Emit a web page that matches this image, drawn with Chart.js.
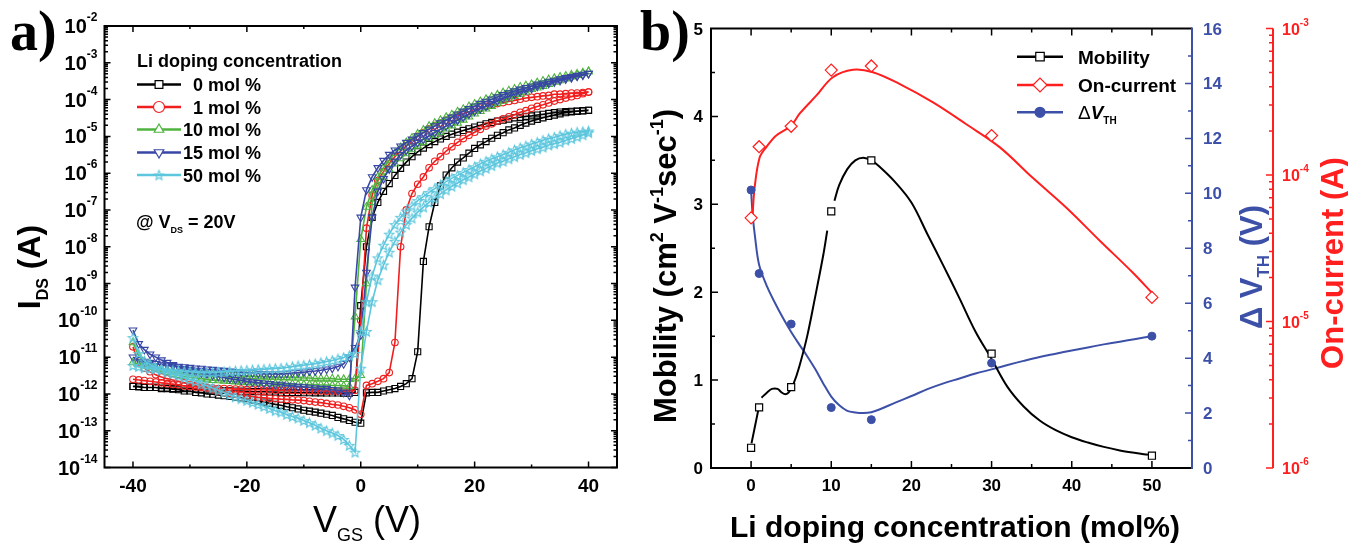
<!DOCTYPE html>
<html><head><meta charset="utf-8">
<script src="https://cdn.jsdelivr.net/npm/chart.js@4.4.1/dist/chart.umd.min.js"></script>
<style>
html,body{margin:0;padding:0;background:#fff;}
body{width:1348px;height:545px;position:relative;overflow:hidden;}
#ca{position:absolute;left:0;top:0;}
#cb{position:absolute;left:640px;top:0;}
</style></head><body>
<canvas id="ca" width="640" height="545"></canvas>
<canvas id="cb" width="708" height="545"></canvas>
<script>
// ---------------- Panel a) transfer curves (I_DS vs V_GS) ----------------
const vgs = [-40,-39,-38,-37,-36,-35,-34,-33,-32,-31,-30,-29,-28,-27,-26,-25,-24,-23,-22,-21,
 -20,-19,-18,-17,-16,-15,-14,-13,-12,-11,-10,-9,-8,-7,-6,-5,-4,-3,-2,-1,0,
 1,2,3,4,5,6,7,8,9,10,11,12,13,14,15,16,17,18,19,20,21,22,23,24,25,26,27,28,29,30,
 31,32,33,34,35,36,37,38,39,40];
const concLabels = ['0 mol %','1 mol %','10 mol %','15 mol %','50 mol %'];
const vgsTicks = [-40,-20,0,20,40];
const idsDecades = [-14,-13,-12,-11,-10,-9,-8,-7,-6,-5,-4,-3,-2];

// sweep -40 V -> +40 V (values listed for V = -40 ... 40)
const ids0Up = [1.6e-12,1.6e-12,1.5e-12,1.5e-12,1.5e-12,1.4e-12,1.4e-12,1.35e-12,1.3e-12,1.2e-12,
 1.2e-12,1.1e-12,1.07e-12,1.0e-12,9.8e-13,9.3e-13,8.9e-13,8.5e-13,8.1e-13,7.8e-13,
 7.4e-13,6.9e-13,6.5e-13,6.0e-13,5.6e-13,5.2e-13,4.9e-13,4.5e-13,4.2e-13,3.9e-13,
 3.6e-13,3.4e-13,3.2e-13,3.0e-13,2.8e-13,2.6e-13,2.3e-13,2.1e-13,1.9e-13,1.7e-13,
 1.6e-13,
 1.07e-12,1.1e-12,1.1e-12,1.2e-12,1.3e-12,1.4e-12,1.6e-12,1.9e-12,2.6e-12,1.4e-11,
 4.0e-9,3.5e-8,1.6e-7,4.5e-7,8.9e-7,1.4e-6,2.0e-6,2.6e-6,3.5e-6,4.7e-6,
 5.9e-6,7.2e-6,8.9e-6,1.07e-5,1.26e-5,1.5e-5,1.7e-5,2.0e-5,2.3e-5,2.6e-5,
 2.9e-5,3.2e-5,3.5e-5,3.8e-5,4.1e-5,4.4e-5,4.6e-5,4.8e-5,4.9e-5,5.1e-5];
// sweep +40 V -> -40 V (values listed for V = -40 ... 40)
const ids0Down = [1.6e-12,1.55e-12,1.5e-12,1.5e-12,1.5e-12,1.45e-12,1.45e-12,1.4e-12,1.4e-12,1.4e-12,
 1.38e-12,1.35e-12,1.33e-12,1.3e-12,1.28e-12,1.26e-12,1.24e-12,1.22e-12,1.2e-12,1.19e-12,
 1.18e-12,1.16e-12,1.15e-12,1.14e-12,1.13e-12,1.12e-12,1.11e-12,1.1e-12,1.1e-12,1.09e-12,
 1.08e-12,1.08e-12,1.07e-12,1.07e-12,1.06e-12,1.06e-12,1.06e-12,1.05e-12,1.05e-12,1.1e-12,
 2.5e-10,
 1.0e-8,6.3e-8,1.6e-7,3.2e-7,5.2e-7,8.7e-7,1.35e-6,2.0e-6,2.8e-6,3.8e-6,
 4.8e-6,6.0e-6,7.2e-6,8.5e-6,1.0e-5,1.15e-5,1.3e-5,1.45e-5,1.6e-5,1.8e-5,
 2.0e-5,2.2e-5,2.4e-5,2.6e-5,2.75e-5,2.95e-5,3.2e-5,3.3e-5,3.5e-5,3.6e-5,
 3.8e-5,4.0e-5,4.2e-5,4.4e-5,4.6e-5,4.7e-5,4.8e-5,4.9e-5,5.0e-5,5.1e-5];
const ids1Up = [1.9e-11,7.1e-12,5.0e-12,4.0e-12,3.3e-12,2.9e-12,2.6e-12,2.4e-12,2.2e-12,2.0e-12,
 1.8e-12,1.7e-12,1.6e-12,1.45e-12,1.3e-12,1.2e-12,1.1e-12,1.02e-12,9.8e-13,9.3e-13,
 8.9e-13,8.5e-13,8.1e-13,7.9e-13,7.6e-13,7.4e-13,7.2e-13,7.1e-13,6.9e-13,6.8e-13,
 6.6e-13,6.3e-13,6.0e-13,5.8e-13,5.5e-13,5.2e-13,5.0e-13,4.6e-13,4.2e-13,3.7e-13,
 2.8e-13,
 1.7e-12,1.9e-12,2.2e-12,2.6e-12,3.8e-12,2.5e-11,1.0e-8,1.0e-7,2.8e-7,5.0e-7,
 7.9e-7,1.4e-6,2.1e-6,2.8e-6,4.0e-6,5.2e-6,6.9e-6,8.7e-6,1.07e-5,1.3e-5,
 1.55e-5,1.9e-5,2.2e-5,2.6e-5,3.0e-5,3.4e-5,3.9e-5,4.5e-5,5.0e-5,5.8e-5,
 6.5e-5,7.2e-5,8.1e-5,9.1e-5,1.0e-4,1.1e-4,1.2e-4,1.3e-4,1.45e-4,1.6e-4];
const ids1Down = [2.5e-12,2.4e-12,2.3e-12,2.2e-12,2.1e-12,2.0e-12,1.9e-12,1.8e-12,1.75e-12,1.65e-12,
 1.6e-12,1.55e-12,1.5e-12,1.5e-12,1.45e-12,1.4e-12,1.4e-12,1.38e-12,1.35e-12,1.35e-12,
 1.3e-12,1.3e-12,1.3e-12,1.28e-12,1.28e-12,1.26e-12,1.26e-12,1.25e-12,1.24e-12,1.23e-12,
 1.22e-12,1.21e-12,1.2e-12,1.2e-12,1.19e-12,1.18e-12,1.18e-12,1.18e-12,1.2e-12,1.25e-12,
 1.0e-10,
 3.2e-8,2.5e-7,6.3e-7,1.1e-6,1.8e-6,2.8e-6,4.0e-6,5.5e-6,7.6e-6,1.0e-5,
 1.26e-5,1.6e-5,1.95e-5,2.3e-5,2.75e-5,3.2e-5,3.6e-5,4.2e-5,4.7e-5,5.2e-5,
 5.9e-5,6.5e-5,7.1e-5,7.8e-5,8.3e-5,8.9e-5,9.5e-5,1.02e-4,1.1e-4,1.15e-4,
 1.2e-4,1.26e-4,1.3e-4,1.4e-4,1.4e-4,1.45e-4,1.5e-4,1.5e-4,1.55e-4,1.6e-4];
const ids10Up = [2.5e-11,1.1e-11,7.6e-12,6.0e-12,5.0e-12,4.4e-12,3.9e-12,3.5e-12,3.2e-12,3.0e-12,
 2.8e-12,2.7e-12,2.6e-12,2.45e-12,2.35e-12,2.3e-12,2.25e-12,2.2e-12,2.15e-12,2.1e-12,
 2.05e-12,2.0e-12,2.0e-12,1.95e-12,1.95e-12,1.9e-12,1.9e-12,1.85e-12,1.85e-12,1.8e-12,
 1.8e-12,1.8e-12,1.8e-12,1.75e-12,1.75e-12,1.7e-12,1.7e-12,1.65e-12,1.6e-12,1.26e-10,
 1.6e-8,
 1.2e-7,3.5e-7,7.9e-7,1.4e-6,2.2e-6,3.5e-6,5.0e-6,6.8e-6,9.1e-6,1.17e-5,
 1.5e-5,1.9e-5,2.3e-5,2.75e-5,3.3e-5,3.9e-5,4.7e-5,5.5e-5,6.5e-5,7.6e-5,
 8.9e-5,1.02e-4,1.17e-4,1.35e-4,1.55e-4,1.75e-4,1.95e-4,2.2e-4,2.4e-4,2.6e-4,
 2.9e-4,3.2e-4,3.5e-4,3.8e-4,4.1e-4,4.4e-4,4.7e-4,5.0e-4,5.4e-4,5.8e-4];
const ids10Down = [7.1e-12,6.3e-12,5.8e-12,5.4e-12,5.0e-12,4.7e-12,4.5e-12,4.3e-12,4.1e-12,3.9e-12,
 3.7e-12,3.6e-12,3.5e-12,3.5e-12,3.4e-12,3.3e-12,3.2e-12,3.2e-12,3.2e-12,3.1e-12,
 3.0e-12,3.0e-12,2.95e-12,2.95e-12,2.9e-12,2.9e-12,2.8e-12,2.8e-12,2.75e-12,2.75e-12,
 2.7e-12,2.7e-12,2.6e-12,2.6e-12,2.6e-12,2.6e-12,2.5e-12,2.5e-12,2.5e-12,2.6e-12,
 3.2e-12,
 1.0e-9,1.6e-7,4.5e-7,7.9e-7,1.26e-6,1.8e-6,2.5e-6,3.4e-6,4.4e-6,5.5e-6,
 6.9e-6,8.7e-6,1.07e-5,1.3e-5,1.6e-5,1.95e-5,2.3e-5,2.8e-5,3.4e-5,4.1e-5,
 4.8e-5,5.6e-5,6.6e-5,7.8e-5,9.1e-5,1.07e-4,1.23e-4,1.4e-4,1.6e-4,1.9e-4,
 2.1e-4,2.3e-4,2.6e-4,3.0e-4,3.3e-4,3.7e-4,4.2e-4,4.6e-4,5.1e-4,5.8e-4];
const ids15Up = [5.4e-11,2.3e-11,1.6e-11,1.2e-11,1.0e-11,8.3e-12,7.1e-12,6.2e-12,5.4e-12,4.8e-12,
 4.4e-12,4.0e-12,3.7e-12,3.5e-12,3.2e-12,3.0e-12,2.8e-12,2.6e-12,2.45e-12,2.35e-12,
 2.2e-12,2.1e-12,2.0e-12,1.95e-12,1.9e-12,1.8e-12,1.8e-12,1.7e-12,1.65e-12,1.6e-12,
 1.55e-12,1.5e-12,1.45e-12,1.4e-12,1.4e-12,1.3e-12,1.26e-12,1.1e-12,9.1e-13,7.9e-10,
 6.3e-8,
 3.5e-7,7.9e-7,1.4e-6,2.2e-6,3.2e-6,4.2e-6,5.4e-6,6.8e-6,8.3e-6,1.02e-5,
 1.26e-5,1.55e-5,1.9e-5,2.3e-5,2.75e-5,3.3e-5,4.0e-5,4.8e-5,5.6e-5,6.6e-5,
 7.8e-5,8.9e-5,1.02e-4,1.17e-4,1.35e-4,1.5e-4,1.7e-4,1.9e-4,2.1e-4,2.3e-4,
 2.6e-4,2.8e-4,3.1e-4,3.3e-4,3.6e-4,3.9e-4,4.2e-4,4.5e-4,4.8e-4,5.1e-4];
const ids15Down = [1.0e-11,8.5e-12,7.6e-12,7.1e-12,6.6e-12,6.3e-12,6.0e-12,5.8e-12,5.6e-12,5.4e-12,
 5.2e-12,5.0e-12,4.9e-12,4.7e-12,4.6e-12,4.4e-12,4.3e-12,4.1e-12,4.0e-12,3.9e-12,
 3.8e-12,3.7e-12,3.6e-12,3.5e-12,3.5e-12,3.5e-12,3.5e-12,3.6e-12,3.7e-12,3.8e-12,
 3.9e-12,4.1e-12,4.2e-12,4.4e-12,4.7e-12,5.0e-12,5.6e-12,6.6e-12,1.0e-11,1.8e-11,
 4.0e-11,
 2.0e-9,6.3e-8,3.2e-7,7.1e-7,1.3e-6,2.1e-6,3.2e-6,4.2e-6,5.4e-6,6.8e-6,
 8.3e-6,1.02e-5,1.26e-5,1.55e-5,1.9e-5,2.3e-5,2.75e-5,3.3e-5,4.0e-5,4.8e-5,
 5.6e-5,6.6e-5,7.8e-5,9.1e-5,1.07e-4,1.23e-4,1.4e-4,1.6e-4,1.8e-4,2.0e-4,
 2.3e-4,2.5e-4,2.75e-4,3.0e-4,3.3e-4,3.6e-4,3.9e-4,4.3e-4,4.6e-4,5.1e-4];
const ids50Up = [3.4e-11,1.26e-11,7.9e-12,6.3e-12,5.2e-12,4.5e-12,3.9e-12,3.5e-12,3.1e-12,2.75e-12,
 2.45e-12,2.2e-12,1.9e-12,1.65e-12,1.45e-12,1.26e-12,1.1e-12,9.5e-13,8.3e-13,7.4e-13,
 6.6e-13,5.9e-13,5.2e-13,4.6e-13,4.0e-13,3.5e-13,3.2e-13,2.75e-13,2.45e-13,2.2e-13,
 1.9e-13,1.65e-13,1.4e-13,1.17e-13,1.0e-13,8.7e-14,7.4e-14,5.8e-14,4.0e-14,2.6e-14,
 5.0e-12,
 5.0e-11,3.2e-10,1.26e-9,3.2e-9,7.1e-9,1.4e-8,2.5e-8,4.0e-8,6.0e-8,8.7e-8,
 1.2e-7,1.6e-7,2.1e-7,2.75e-7,3.5e-7,4.4e-7,5.4e-7,6.6e-7,7.9e-7,9.5e-7,
 1.15e-6,1.35e-6,1.6e-6,1.9e-6,2.1e-6,2.45e-6,2.8e-6,3.2e-6,3.6e-6,4.1e-6,
 4.6e-6,5.1e-6,5.8e-6,6.3e-6,6.9e-6,7.9e-6,8.7e-6,9.8e-6,1.1e-5,1.26e-5];
const ids50Down = [5.9e-12,5.5e-12,5.1e-12,4.9e-12,4.8e-12,4.7e-12,4.5e-12,4.3e-12,4.2e-12,4.1e-12,
 4.0e-12,3.9e-12,3.8e-12,3.8e-12,3.8e-12,3.9e-12,4.0e-12,4.1e-12,4.2e-12,4.3e-12,
 4.4e-12,4.5e-12,4.6e-12,4.7e-12,4.8e-12,4.9e-12,5.0e-12,5.2e-12,5.5e-12,5.8e-12,
 6.0e-12,6.3e-12,6.6e-12,7.1e-12,7.6e-12,8.1e-12,8.9e-12,9.8e-12,1.1e-11,1.26e-11,
 5.0e-11,
 3.2e-10,1.6e-9,5.0e-9,1.1e-8,2.2e-8,4.0e-8,6.3e-8,9.3e-8,1.3e-7,1.8e-7,
 2.3e-7,3.0e-7,3.8e-7,4.8e-7,5.9e-7,7.2e-7,8.7e-7,1.05e-6,1.26e-6,1.5e-6,
 1.8e-6,2.1e-6,2.45e-6,2.8e-6,3.2e-6,3.7e-6,4.3e-6,4.9e-6,5.5e-6,6.2e-6,
 6.9e-6,7.8e-6,8.7e-6,9.5e-6,1.05e-5,1.15e-5,1.23e-5,1.3e-5,1.35e-5,1.4e-5];

// ---------------- Panel b) device parameters vs Li concentration ----------------
const liConc = [0,1,5,10,15,30,50];
const mobility = [0.23,0.69,0.92,2.92,3.5,1.3,0.14];
const onCurrent = [5.1e-5,1.56e-4,2.15e-4,5.2e-4,5.55e-4,1.86e-4,1.46e-5];
const deltaVth = [10.12,7.08,5.24,2.2,1.76,3.82,4.8];
const concTicks = [0,10,20,30,40,50];
const mobTicks = [0,1,2,3,4,5];
const vthTicks = [0,2,4,6,8,10,12,14,16];
const onDecades = [-6,-5,-4,-3];
// guide curves
const mobFitX = [0.05,0.5,0.9,null,1.3,2,2.6,3.3,3.8,4.3,4.7,5.3,6,7,8,9,9.5,null,10.4,11,12,13,14,15,16,18,20,22,24,26,28,30,32,34,36,38,40,42,44,46,48,49.5];
const mobFitY = [0.28,0.48,0.66,null,0.8,0.86,0.9,0.9,0.86,0.84,0.86,0.96,1.15,1.5,1.95,2.42,2.7,null,3.04,3.22,3.4,3.5,3.53,3.5,3.43,3.25,3.02,2.66,2.3,1.93,1.55,1.24,0.92,0.7,0.54,0.43,0.35,0.29,0.24,0.2,0.17,0.15];
const onFitX = [0.19,0.44,1.06,1.9,3.14,5.0,6.05,8.13,10.2,12.7,15.2,18.5,22.7,26.8,31.0,35.1,39.3,43.5,47.6,50.1];
const onFitY = [5.4e-5,8.2e-5,1.31e-4,1.55e-4,1.86e-4,2.17e-4,2.62e-4,3.48e-4,4.65e-4,5.23e-4,5.03e-4,4.19e-4,3.13e-4,2.23e-4,1.55e-4,9.6e-5,6.0e-5,3.56e-5,2.16e-5,1.55e-5];
const vthFitX = [0,0.2,0.5,1,2,3,4,5,6,7,8,9,10,11,12,13,14,15,16,18,20,22,24,26,28,30,32,34,36,38,40,42,44,46,48,50];
const vthFitY = [10.1,9.2,8.4,7.4,6.6,6.0,5.45,4.95,4.5,4.07,3.6,3.08,2.6,2.28,2.08,2.02,2.0,2.03,2.13,2.38,2.62,2.87,3.08,3.26,3.44,3.59,3.75,3.9,4.04,4.16,4.28,4.39,4.5,4.6,4.7,4.8];

// ---------------- helpers ----------------
const FF = '"Liberation Sans", Arial, Helvetica, sans-serif';
const SERIF = '"Liberation Serif", "Times New Roman", serif';
const BLUE_R = '#3d50a8', RED_R = '#ff1f1f';
function richText(ctx, parts, x, y, color, align) {
  let w = 0;
  for (const p of parts) { ctx.font = p[1]; w += ctx.measureText(p[0]).width; }
  let cx = align === 'center' ? x - w / 2 : (align === 'right' ? x - w : x);
  ctx.fillStyle = color; ctx.textAlign = 'left'; ctx.textBaseline = 'alphabetic';
  for (const p of parts) { ctx.font = p[1]; ctx.fillText(p[0], cx, y + (p[2] || 0)); cx += ctx.measureText(p[0]).width; }
  return w;
}
function richTextRot(ctx, parts, x, y, color) {
  ctx.save(); ctx.translate(x, y); ctx.rotate(-Math.PI / 2);
  richText(ctx, parts, 0, 0, color, 'center'); ctx.restore();
}
function makeStar(color, r) {
  const c = document.createElement('canvas'); const s = Math.ceil(r * 2 + 3);
  c.width = s; c.height = s; const g = c.getContext('2d');
  g.strokeStyle = color; g.lineWidth = 1.1; g.beginPath();
  for (let k = 0; k < 10; k++) {
    const ang = -Math.PI / 2 + k * Math.PI / 5; const rr = (k % 2) ? r * 0.45 : r;
    const px = s / 2 + rr * Math.cos(ang), py = s / 2 + 0.5 + rr * Math.sin(ang);
    if (k === 0) g.moveTo(px, py); else g.lineTo(px, py);
  }
  g.closePath(); g.stroke(); return c;
}
function sweep(up, down) {
  const pts = [];
  for (let i = 0; i < vgs.length; i++) pts.push({x: vgs[i], y: up[i]});
  for (let i = vgs.length - 1; i >= 0; i--) pts.push({x: vgs[i], y: down[i]});
  return pts;
}
function pairs(xs, ys) { return xs.map((x, i) => ({x: x === null ? (xs[i-1] + xs[i+1]) / 2 : x, y: ys[i]})); }

// ---------------- chart a) ----------------
const colA = ['#000000', '#f01e1e', '#4fb33f', '#3847a5', '#5cc6dd'];
const starImg = makeStar(colA[4], 5);
const styleA = ['rect', 'circle', 'triangle', 'triangle', starImg];
const rotA = [0, 0, 0, 180, 0];
const radA = [4.3, 3.3, 4.4, 4.4, 5];
const orderA = [5, 4, 3, 2, 1];
const upA = [ids0Up, ids1Up, ids10Up, ids15Up, ids50Up];
const downA = [ids0Down, ids1Down, ids10Down, ids15Down, ids50Down];

const panelA = {
  id: 'panelA',
  afterDraw(chart) {
    const ctx = chart.ctx, a = chart.chartArea, xs = chart.scales.x, ys = chart.scales.y;
    ctx.save();
    ctx.strokeStyle = '#000'; ctx.lineWidth = 2;
    ctx.strokeRect(a.left, a.top, a.right - a.left, a.bottom - a.top);
    ctx.lineWidth = 1.5; ctx.beginPath();
    for (let v = -40; v <= 40; v += 10) {
      const p = xs.getPixelForValue(v); const L = (v % 20 === 0) ? 6 : 3;
      ctx.moveTo(p, a.bottom); ctx.lineTo(p, a.bottom - L);
      ctx.moveTo(p, a.top); ctx.lineTo(p, a.top + L);
    }
    for (const d of idsDecades) {
      const p = ys.getPixelForValue(Math.pow(10, d));
      ctx.moveTo(a.left, p); ctx.lineTo(a.left + 6, p);
      ctx.moveTo(a.right, p); ctx.lineTo(a.right - 6, p);
      if (d < -2) for (let m = 2; m <= 9; m++) {
        const q = ys.getPixelForValue(m * Math.pow(10, d));
        ctx.moveTo(a.left, q); ctx.lineTo(a.left + 3.5, q);
        ctx.moveTo(a.right, q); ctx.lineTo(a.right - 3.5, q);
      }
    }
    ctx.stroke();
    // tick labels
    ctx.fillStyle = '#000'; ctx.textBaseline = 'alphabetic';
    for (const v of vgsTicks) {
      ctx.font = 'bold 19px ' + FF; ctx.textAlign = 'center';
      ctx.fillText(String(v), xs.getPixelForValue(v), 492);
    }
    for (const d of idsDecades) {
      const p = ys.getPixelForValue(Math.pow(10, d));
      ctx.font = 'bold 12px ' + FF; const sup = String(d); const sw = ctx.measureText(sup).width;
      ctx.textAlign = 'right'; ctx.fillText(sup, 97.5, p - 5);
      ctx.font = 'bold 20px ' + FF; ctx.fillText('10', 97.5 - sw, p + 7);
    }
    // axis titles
    richTextRot(ctx, [['I', 'bold 32px ' + FF], ['DS', 'bold 16px ' + FF, 8], [' (A)', 'bold 32px ' + FF]], 40, 267, '#000');
    richText(ctx, [['V', '36px ' + FF], ['GS', '18px ' + FF, 9], [' (V)', '36px ' + FF]], 313, 532, '#000', 'left');
    // panel label
    ctx.font = 'bold 56px ' + SERIF; ctx.textAlign = 'left'; ctx.fillStyle = '#000';
    ctx.fillText('a)', 10, 50);
    // legend
    ctx.font = 'bold 18px ' + FF; ctx.fillText('Li doping concentration', 137, 66.5);
    const rows = [84.5, 107, 129.5, 152.5, 175];
    chart.data.datasets.forEach((ds, i) => {
      const y = rows[i];
      ctx.strokeStyle = ds.borderColor; ctx.lineWidth = 2.4;
      ctx.beginPath(); ctx.moveTo(137, y); ctx.lineTo(181, y); ctx.stroke();
      ctx.fillStyle = '#fff'; ctx.lineWidth = 1.2;
      Chart.helpers.drawPoint(ctx, {pointStyle: ds.pointStyle, rotation: ds.pointRotation, radius: 5.5, borderWidth: 1.2}, 159, y);
      ctx.fillStyle = '#000'; ctx.font = 'bold 18px ' + FF; ctx.textAlign = 'right';
      ctx.fillText(ds.label, 261, y + 6.5);
      ctx.textAlign = 'left';
    });
    richText(ctx, [['@ V', 'bold 18px ' + FF], ['DS', 'bold 9px ' + FF, 5], [' = 20V', 'bold 18px ' + FF]], 136, 228, '#000', 'left');
    ctx.restore();
  }
};

new Chart(document.getElementById('ca'), {
  type: 'scatter',
  data: {
    datasets: concLabels.map((lab, i) => ({
      label: lab, data: sweep(upA[i], downA[i]), showLine: true,
      borderColor: colA[i], borderWidth: 1.6,
      pointStyle: styleA[i], pointRotation: rotA[i], pointRadius: radA[i],
      pointBorderColor: colA[i], pointBackgroundColor: 'rgba(0,0,0,0)', pointBorderWidth: 1.1,
      order: orderA[i]
    }))
  },
  options: {
    responsive: false, animation: false, devicePixelRatio: 1, events: [],
    layout: {padding: {top: 26, right: 23, left: 0, bottom: 0}},
    plugins: {legend: {display: false}, tooltip: {enabled: false}},
    scales: {
      x: {type: 'linear', min: -45, max: 45, grid: {display: false, drawTicks: false}, border: {display: false},
          ticks: {display: false}, afterFit: s => { s.height = 77.5; }},
      y: {type: 'logarithmic', min: 1e-14, max: 1e-2, grid: {display: false, drawTicks: false}, border: {display: false},
          ticks: {display: false}, afterFit: s => { s.width = 104.5; }}
    }
  },
  plugins: [panelA]
});

// ---------------- chart b) ----------------
const panelB = {
  id: 'panelB',
  afterDraw(chart) {
    const ctx = chart.ctx, a = chart.chartArea, xs = chart.scales.x, ys = chart.scales.y,
          yv = chart.scales.yV, yo = chart.scales.yOn;
    ctx.save();
    ctx.lineWidth = 2; ctx.strokeStyle = '#000';
    ctx.beginPath(); ctx.moveTo(a.right, a.top); ctx.lineTo(a.left, a.top); ctx.lineTo(a.left, a.bottom); ctx.lineTo(a.right, a.bottom); ctx.stroke();
    ctx.strokeStyle = BLUE_R; ctx.beginPath(); ctx.moveTo(a.right, a.top - 1); ctx.lineTo(a.right, a.bottom + 1); ctx.stroke();
    const rx = yo.left;
    ctx.strokeStyle = RED_R; ctx.beginPath(); ctx.moveTo(rx, a.top); ctx.lineTo(rx, a.bottom); ctx.stroke();
    // black ticks
    ctx.lineWidth = 1.5; ctx.strokeStyle = '#000'; ctx.beginPath();
    for (let v = 0; v <= 50; v += 5) {
      const p = xs.getPixelForValue(v); const L = (v % 10 === 0) ? 7 : 4;
      ctx.moveTo(p, a.bottom); ctx.lineTo(p, a.bottom - L);
      ctx.moveTo(p, a.top); ctx.lineTo(p, a.top + L);
    }
    for (let v = 0.5; v < 5; v += 0.5) {
      const p = ys.getPixelForValue(v); const L = (Math.abs(v - Math.round(v)) < 1e-6) ? 7 : 4;
      ctx.moveTo(a.left, p); ctx.lineTo(a.left + L, p);
    }
    ctx.stroke();
    // blue ticks
    ctx.strokeStyle = BLUE_R; ctx.beginPath();
    for (let v = 1; v < 16; v++) {
      const p = yv.getPixelForValue(v); const L = (v % 2 === 0) ? 7 : 4;
      ctx.moveTo(a.right, p); ctx.lineTo(a.right - L, p);
    }
    ctx.stroke();
    // red ticks
    ctx.strokeStyle = RED_R; ctx.beginPath();
    for (const d of onDecades) {
      const p = yo.getPixelForValue(Math.pow(10, d));
      ctx.moveTo(rx, p); ctx.lineTo(rx - 7, p);
      if (d < -3) for (let m = 2; m <= 9; m++) {
        const q = yo.getPixelForValue(m * Math.pow(10, d));
        ctx.moveTo(rx, q); ctx.lineTo(rx - 4, q);
      }
    }
    ctx.stroke();
    // labels
    ctx.textBaseline = 'alphabetic';
    ctx.font = 'bold 17px ' + FF; ctx.fillStyle = '#000'; ctx.textAlign = 'center';
    for (const v of concTicks) ctx.fillText(String(v), xs.getPixelForValue(v), 491);
    ctx.textAlign = 'right';
    for (const v of mobTicks) ctx.fillText(String(v), a.left - 8, ys.getPixelForValue(v) + 6);
    ctx.fillStyle = BLUE_R; ctx.textAlign = 'left';
    for (const v of vthTicks) ctx.fillText(String(v), a.right + 11, yv.getPixelForValue(v) + 6);
    ctx.fillStyle = RED_R;
    for (const d of onDecades) {
      const p = yo.getPixelForValue(Math.pow(10, d));
      ctx.font = 'bold 16px ' + FF; ctx.fillText('10', rx + 9, p + 6);
      const w = ctx.measureText('10').width;
      ctx.font = 'bold 10px ' + FF; ctx.fillText(String(d), rx + 9 + w, p - 3);
    }
    // titles
    richText(ctx, [['Li doping concentration (mol%)', 'bold 30px ' + FF]], 315, 537, '#000', 'center');
    richTextRot(ctx, [['Mobility (cm', 'bold 31px ' + FF], ['2', 'bold 18px ' + FF, -13], [' V', 'bold 31px ' + FF],
      ['-1', 'bold 18px ' + FF, -13], ['sec', 'bold 31px ' + FF], ['-1', 'bold 18px ' + FF, -13], [')', 'bold 31px ' + FF]], 36, 266, '#000');
    richTextRot(ctx, [['\u0394 V', 'bold 31px ' + FF], ['TH', 'bold 17px ' + FF, 7], [' (V)', 'bold 31px ' + FF]], 622, 267, BLUE_R);
    richTextRot(ctx, [['On-current (A)', 'bold 31px ' + FF]], 703, 263, RED_R);
    ctx.font = 'bold 56px ' + SERIF; ctx.fillStyle = '#000'; ctx.textAlign = 'left';
    ctx.fillText('b)', 0, 50);
    // legend
    const items = [[0, 3, 56.7], [1, 4, 85], [2, 5, 112.3]];
    for (const [mi, li, y] of items) {
      const md = chart.data.datasets[mi], ld = chart.data.datasets[li];
      ctx.strokeStyle = ld.borderColor; ctx.lineWidth = 2.5;
      ctx.beginPath(); ctx.moveTo(377, y); ctx.lineTo(423, y); ctx.stroke();
      ctx.fillStyle = md.pointBackgroundColor; ctx.strokeStyle = md.pointBorderColor; ctx.lineWidth = 1.2;
      Chart.helpers.drawPoint(ctx, {pointStyle: md.pointStyle, rotation: 0, radius: md.pointRadius + 1, borderWidth: md.pointBorderWidth}, 400, y);
    }
    ctx.fillStyle = '#000'; ctx.textAlign = 'left'; ctx.font = 'bold 19px ' + FF;
    ctx.fillText('Mobility', 438, 63.5);
    ctx.fillText('On-current', 438, 92);
    richText(ctx, [['\u0394', '19px ' + FF], ['V', 'italic bold 19px ' + FF], ['TH', 'bold 10px ' + FF, 5]], 438, 119, '#000', 'left');
    ctx.restore();
  }
};

new Chart(document.getElementById('cb'), {
  type: 'scatter',
  data: {
    datasets: [
      {label: 'Mobility', data: pairs(liConc, mobility), yAxisID: 'y', showLine: false,
       pointStyle: 'rect', pointRadius: 5, pointBorderColor: '#000', pointBackgroundColor: '#fff', pointBorderWidth: 1.2, order: 0},
      {label: 'On-current', data: pairs(liConc, onCurrent), yAxisID: 'yOn', showLine: false,
       pointStyle: 'rectRot', pointRadius: 6, pointBorderColor: RED_R, pointBackgroundColor: '#fff', pointBorderWidth: 1.2, order: 0},
      {label: 'dVth', data: pairs(liConc, deltaVth), yAxisID: 'yV', showLine: false,
       pointStyle: 'circle', pointRadius: 4, pointBorderColor: BLUE_R, pointBackgroundColor: BLUE_R, pointBorderWidth: 1, order: 0},
      {label: 'Mobility fit', data: pairs(mobFitX, mobFitY), yAxisID: 'y', showLine: true, spanGaps: false,
       borderColor: '#000', borderWidth: 2, pointRadius: 0, tension: 0.35, order: 1},
      {label: 'On-current fit', data: pairs(onFitX, onFitY), yAxisID: 'yOn', showLine: true,
       borderColor: RED_R, borderWidth: 2, pointRadius: 0, tension: 0.35, order: 1},
      {label: 'dVth fit', data: pairs(vthFitX, vthFitY), yAxisID: 'yV', showLine: true,
       borderColor: BLUE_R, borderWidth: 2, pointRadius: 0, tension: 0.35, order: 1}
    ]
  },
  options: {
    responsive: false, animation: false, devicePixelRatio: 1, events: [],
    layout: {padding: {top: 28.5, right: 0, left: 0, bottom: 0}},
    plugins: {legend: {display: false}, tooltip: {enabled: false}},
    scales: {
      x: {type: 'linear', min: -5, max: 55, grid: {display: false, drawTicks: false}, border: {display: false},
          ticks: {display: false}, afterFit: s => { s.height = 77; }},
      y: {type: 'linear', position: 'left', min: 0, max: 5, grid: {display: false, drawTicks: false}, border: {display: false},
          ticks: {display: false}, afterFit: s => { s.width = 71; }},
      yV: {type: 'linear', position: 'right', min: 0, max: 16, grid: {display: false, drawTicks: false}, border: {display: false},
          ticks: {display: false}, afterFit: s => { s.width = 81; }},
      yOn: {type: 'logarithmic', position: 'right', min: 1e-6, max: 1e-3, grid: {display: false, drawTicks: false}, border: {display: false},
          ticks: {display: false}, afterFit: s => { s.width = 75; }}
    }
  },
  plugins: [panelB]
});
</script>
</body></html>
